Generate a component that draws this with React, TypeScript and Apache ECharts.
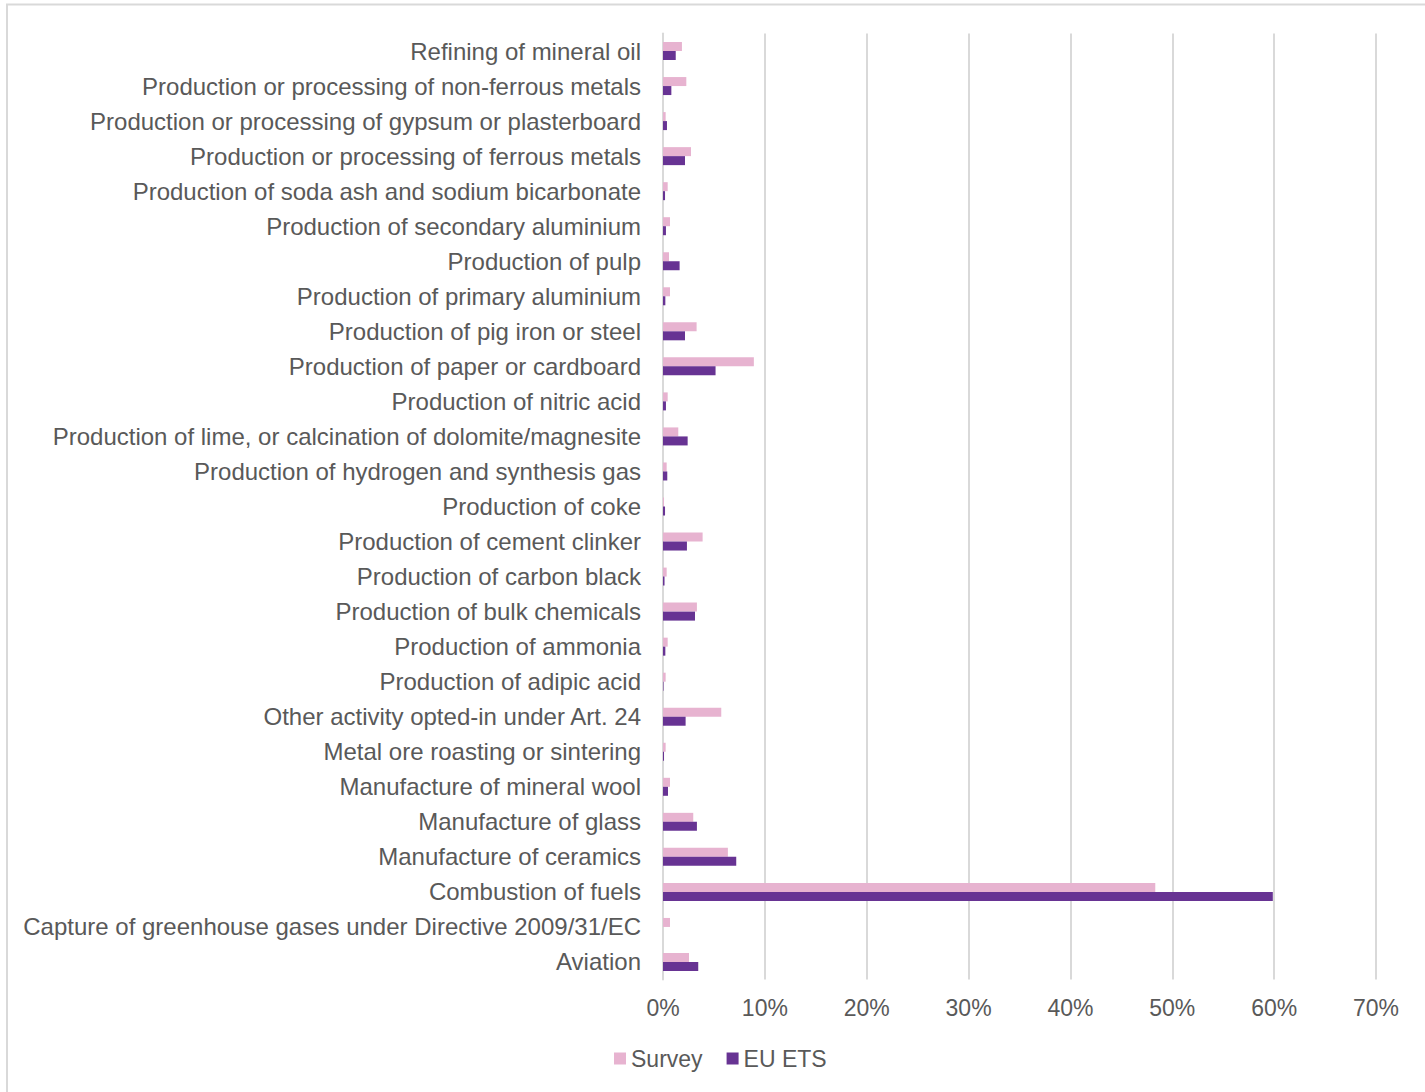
import React, { useEffect, useRef } from "react";
import * as echarts from "echarts";

const categories: string[] = [
  "Refining of mineral oil",
  "Production or processing of non-ferrous metals",
  "Production or processing of gypsum or plasterboard",
  "Production or processing of ferrous metals",
  "Production of soda ash and sodium bicarbonate",
  "Production of secondary aluminium",
  "Production of pulp",
  "Production of primary aluminium",
  "Production of pig iron or steel",
  "Production of paper or cardboard",
  "Production of nitric acid",
  "Production of lime, or calcination of dolomite/magnesite",
  "Production of hydrogen and synthesis gas",
  "Production of coke",
  "Production of cement clinker",
  "Production of carbon black",
  "Production of bulk chemicals",
  "Production of ammonia",
  "Production of adipic acid",
  "Other activity opted-in under Art. 24",
  "Metal ore roasting or sintering",
  "Manufacture of mineral wool",
  "Manufacture of glass",
  "Manufacture of ceramics",
  "Combustion of fuels",
  "Capture of greenhouse gases under Directive 2009/31/EC",
  "Aviation",
];

const surveyValues: number[] = [
  1.86, 2.29, 0.26, 2.75, 0.46, 0.69, 0.59, 0.69, 3.3, 8.92, 0.46, 1.5, 0.36,
  0.1, 3.89, 0.36, 3.33, 0.46, 0.26, 5.72, 0.26, 0.69, 2.97, 6.37, 48.33, 0.69,
  2.55,
];

const etsValues: number[] = [
  1.25, 0.82, 0.39, 2.16, 0.2, 0.29, 1.63, 0.23, 2.16, 5.16, 0.29, 2.42, 0.42,
  0.2, 2.35, 0.15, 3.14, 0.23, 0.05, 2.22, 0.1, 0.49, 3.33, 7.19, 59.87, 0,
  3.46,
];

const seriesNames: string[] = ["Survey", "EU ETS"];
const tickMax = 70;
const tickStep = 10;

const textColor = "#595959";
const gridColor = "#d9d9d9";
const fontFamily = "'Liberation Sans', Arial, sans-serif";

export default function App() {
  const ref = useRef<HTMLDivElement>(null);
  useEffect(() => {
    if (!ref.current) return;
    const chart = echarts.init(ref.current, undefined, { renderer: "svg" });
    chart.setOption({
      animation: false,
      backgroundColor: "#ffffff",
      textStyle: { fontFamily },
      graphic: [
        {
          type: "polyline",
          shape: { points: [[7, 1200], [7, 4.5], [1500, 4.5]] },
          style: { stroke: gridColor, lineWidth: 2, fill: "none" },
          silent: true,
        },
      ],
      legend: {
        data: seriesNames,
        left: 609,
        top: 1042,
        icon: "rect",
        itemWidth: 12,
        itemHeight: 12,
        itemGap: 24,
        textStyle: { color: textColor, fontSize: 23, fontFamily },
      },
      grid: {
        left: 663,
        right: 49,
        top: 33.5,
        bottom: 112.5,
        containLabel: false,
      },
      xAxis: {
        type: "value",
        min: 0,
        max: tickMax,
        interval: tickStep,
        axisLine: { show: false },
        axisTick: { show: false },
        splitLine: { show: true, lineStyle: { color: gridColor, width: 2 } },
        axisLabel: {
          color: textColor,
          fontSize: 23,
          fontFamily,
          margin: 17,
          formatter: (v: number) => `${v}%`,
        },
      },
      yAxis: {
        type: "category",
        data: categories,
        inverse: true,
        axisLine: { show: true, lineStyle: { color: gridColor, width: 2 } },
        axisTick: { show: false },
        axisLabel: {
          color: textColor,
          fontSize: 24,
          fontFamily,
          margin: 22,
        },
      },
      series: [
        {
          name: seriesNames[0],
          type: "bar",
          data: surveyValues,
          barWidth: 9,
          barGap: "0%",
          itemStyle: { color: "#e7b3d0" },
        },
        {
          name: seriesNames[1],
          type: "bar",
          data: etsValues,
          barWidth: 9,
          barGap: "0%",
          itemStyle: { color: "#673393" },
        },
      ],
    });
    return () => chart.dispose();
  }, []);
  return (
    <div
      ref={ref}
      style={{ position: "fixed", left: 0, top: 0, width: 1425, height: 1092 }}
    />
  );
}
